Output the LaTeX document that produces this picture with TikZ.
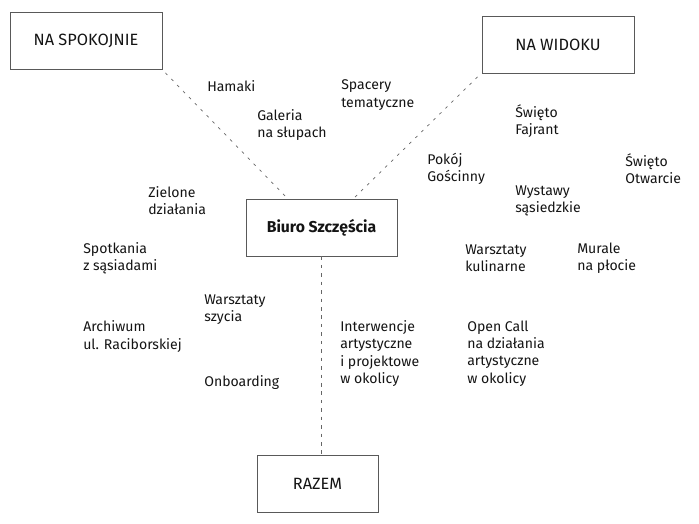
\documentclass[tikz,border=0pt]{standalone}
\usepackage{fontspec}
\setmainfont{Fira Sans}
\begin{document}
\begin{tikzpicture}[
        x=0.025cm, y=-0.025cm,
        every node/.style={
            font=\fontsize{10}{12.2}\selectfont, text=black!92
        },
        box/.style={draw=black!65, line width=0.6pt, minimum height=1.425cm, inner sep=0pt,
            font=\fontsize{11.6}{14}\selectfont},
        lbl/.style={anchor=west, align=left, inner sep=0pt},
        link/.style={draw=black!60, line width=0.5pt, dash pattern=on 2pt off 4pt}
    ]
    \useasboundingbox (0,0) rectangle (699,524);

    % BOXES
    \node[box, minimum width=3.8cm] (spokojnie) at (86,41) {NA SPOKOJNIE};
    \node[box, minimum width=3.8cm] (widoku) at (558,45) {NA WIDOKU};
    \node[box, minimum width=3.775cm, font=\fontsize{11.2}{14}\selectfont] (biuro) at (321.5,227.5) {\textbf{Biuro Szczęścia}};
    \node[box, minimum width=3.025cm] (razem) at (317.5,483.5) {RAZEM};

    % LINKS
    \draw[link] ([shift={(3,3)}]spokojnie.south east) -- ([xshift=1.05cm]biuro.north west);
    \draw[link] ([shift={(-4,3)}]widoku.south west) -- ([xshift=-1.1cm]biuro.north east);
    \draw[link, dash pattern=on 2.5pt off 3.5pt] (biuro.south) -- (biuro.south |- razem.north);

    % LABELS, left
    \node[lbl] (hamaki) at (207,86) {Hamaki};
    \node[lbl] (galeria) at (257,125) {Galeria\\na słupach};
    \node[lbl] (zielone) at (148,201) {Zielone\\działania};
    \node[lbl] (spotkania) at (83,258) {Spotkania\\z sąsiadami};
    \node[lbl] (szycia) at (204,309.5) {Warsztaty\\szycia};
    \node[lbl] (archiwum) at (83,336.5) {Archiwum\\ul. Raciborskiej};
    \node[lbl] (onboarding) at (204,383) {Onboarding};

    % LABELS, middle
    \node[lbl] (spacery) at (341,95) {Spacery\\tematyczne};
    \node[lbl] (interwencje) at (340,353.5) {Interwencje\\artystyczne\\i projektowe\\w okolicy};

    % LABELS, right
    \node[lbl] (fajrant) at (515,121.5) {Święto\\Fajrant};
    \node[lbl] (pokoj) at (427,169) {Pokój\\Gościnny};
    \node[lbl] (otwarcie) at (625,169) {Święto\\Otwarcie};
    \node[lbl] (wystawy) at (515,200.5) {Wystawy\\sąsiedzkie};
    \node[lbl] (kulinarne) at (465,258) {Warsztaty\\kulinarne};
    \node[lbl] (murale) at (577,258) {Murale\\na płocie};
    \node[lbl] (opencall) at (467,353.5) {Open Call\\na działania\\artystyczne\\w okolicy};
\end{tikzpicture}
\end{document}
